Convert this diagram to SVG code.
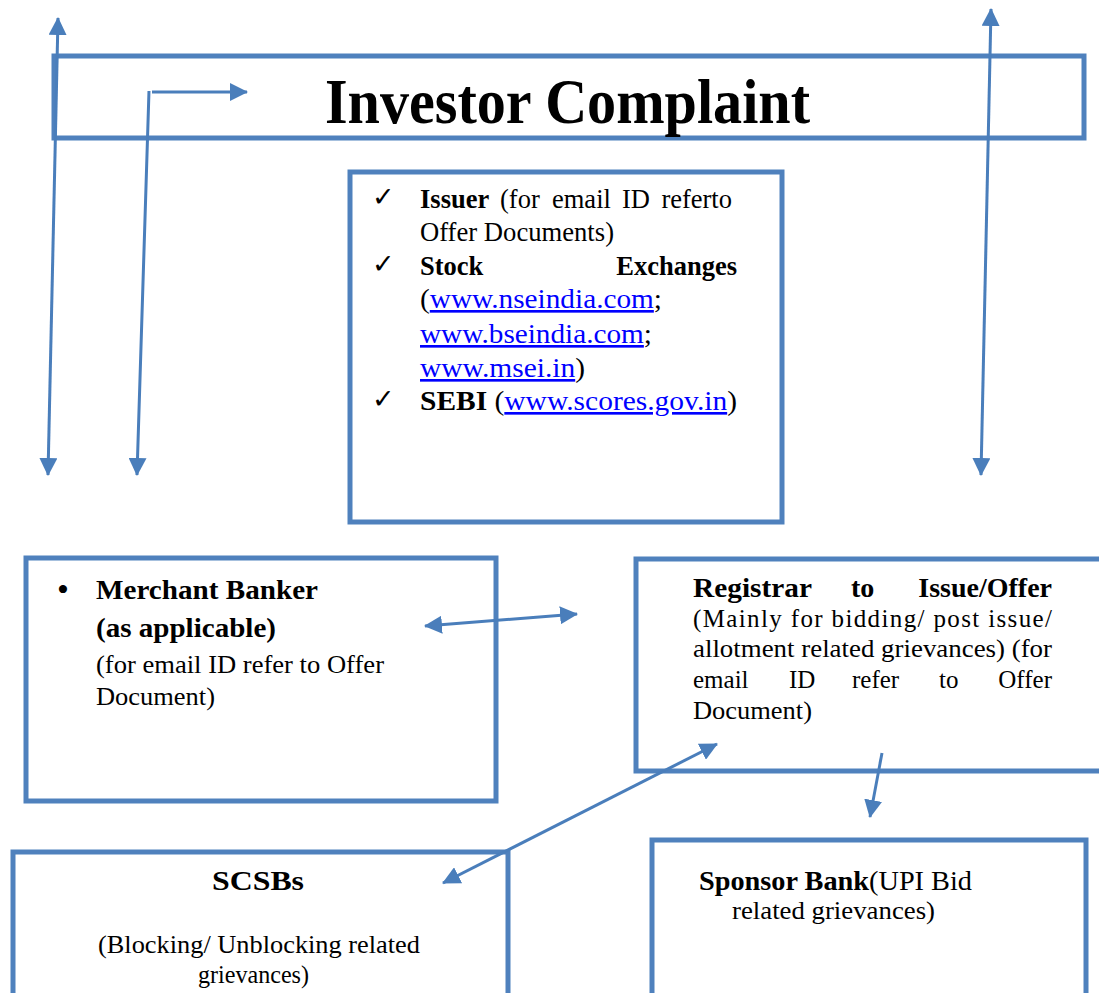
<svg xmlns="http://www.w3.org/2000/svg" width="1099" height="993" viewBox="0 0 1099 993">
<style>
.box{fill:none;stroke:#4F81BD;stroke-width:5}
.con{stroke:#4A7EBB;stroke-width:3;fill:none}
text{font-family:"Liberation Serif","Times New Roman",serif;fill:#000}
.b{font-weight:bold}
.link{fill:#0000FF;text-decoration:underline}
.chk{font-family:"DejaVu Sans",sans-serif;font-size:27px;font-weight:bold}
.c{font-size:26.5px}
.r{font-size:25px}
</style>
<defs>
<marker id="ah" viewBox="0 0 18 18" markerWidth="18" markerHeight="18" refX="17" refY="9" orient="auto-start-reverse" markerUnits="userSpaceOnUse">
<path d="M0,0 L18,9 L0,18 z" fill="#4A7EBB"/>
</marker>
</defs>
<rect width="1099" height="993" fill="#fff"/>

<g id="title">
<rect class="box" x="54" y="56" width="1030" height="82"/>
<text class="b" x="325" y="123" font-size="63" textLength="485" lengthAdjust="spacingAndGlyphs">Investor Complaint</text>
</g>

<g id="contacts">
<rect class="box" x="350" y="172" width="432" height="350"/>
<text class="chk" x="372" y="206">✓</text>
<text class="chk" x="372" y="273">✓</text>
<text class="chk" x="372" y="408">✓</text>
<text class="c b" x="420" y="208">Issuer</text>
<text class="c" x="500" y="208">(for</text>
<text class="c" x="552" y="208">email</text>
<text class="c" x="622" y="208">ID</text>
<text class="c" x="732" y="208" text-anchor="end">referto</text>
<text class="c" x="420" y="241" textLength="194" lengthAdjust="spacingAndGlyphs">Offer Documents)</text>
<text class="c b" x="420" y="275">Stock</text>
<text class="c b" x="737" y="275" text-anchor="end">Exchanges</text>
<text class="c" x="420" y="308" textLength="242" lengthAdjust="spacingAndGlyphs">(<tspan class="link">www.nseindia.com</tspan>;</text>
<text class="c" x="420" y="343" textLength="232" lengthAdjust="spacingAndGlyphs"><tspan class="link">www.bseindia.com</tspan>;</text>
<text class="c" x="420" y="377" textLength="165" lengthAdjust="spacingAndGlyphs"><tspan class="link">www.msei.in</tspan>)</text>
<text class="c" x="420" y="410" textLength="317" lengthAdjust="spacingAndGlyphs"><tspan class="b">SEBI</tspan> (<tspan class="link">www.scores.gov.in</tspan>)</text>
</g>

<g id="merchant-banker">
<rect class="box" x="26" y="558" width="470" height="243"/>
<text x="57" y="601" font-size="34">•</text>
<text class="b" x="96" y="599" font-size="28" textLength="222" lengthAdjust="spacingAndGlyphs">Merchant Banker</text>
<text class="b" x="96" y="637" font-size="28" textLength="180" lengthAdjust="spacingAndGlyphs">(as applicable)</text>
<text class="r" x="96" y="673" textLength="288" lengthAdjust="spacingAndGlyphs">(for email ID refer to Offer</text>
<text class="r" x="96" y="705" textLength="119" lengthAdjust="spacingAndGlyphs">Document)</text>
</g>

<g id="registrar">
<rect class="box" x="636" y="559" width="480" height="212"/>
<text class="b" x="693" y="597" font-size="28" textLength="119" lengthAdjust="spacingAndGlyphs">Registrar</text>
<text class="b" x="851" y="597" font-size="28">to</text>
<text class="b" x="1052" y="597" font-size="28" text-anchor="end">Issue/Offer</text>
<text class="r" x="693" y="627" textLength="359" lengthAdjust="spacing">(Mainly for bidding/ post issue/</text>
<text class="r" x="693" y="657" textLength="359" lengthAdjust="spacingAndGlyphs">allotment related grievances) (for</text>
<text class="r" x="693" y="688">email</text>
<text class="r" x="789" y="688">ID</text>
<text class="r" x="852" y="688">refer</text>
<text class="r" x="939" y="688">to</text>
<text class="r" x="1052" y="688" text-anchor="end">Offer</text>
<text class="r" x="693" y="719" textLength="119" lengthAdjust="spacingAndGlyphs">Document)</text>
</g>

<g id="scsbs">
<rect class="box" x="13" y="852" width="495" height="200"/>
<text class="b" x="212" y="890" font-size="28" textLength="92" lengthAdjust="spacingAndGlyphs">SCSBs</text>
<text x="98" y="953" font-size="25" textLength="322" lengthAdjust="spacingAndGlyphs">(Blocking/ Unblocking related</text>
<text x="198" y="983" font-size="25" textLength="111" lengthAdjust="spacingAndGlyphs">grievances)</text>
</g>

<g id="sponsor-bank">
<rect class="box" x="652" y="840" width="434" height="200"/>
<text x="699" y="890" font-size="27" textLength="273" lengthAdjust="spacingAndGlyphs"><tspan class="b">Sponsor Bank</tspan>(UPI Bid</text>
<text x="732" y="919" font-size="26" textLength="203" lengthAdjust="spacingAndGlyphs">related grievances)</text>
</g>

<g id="connectors">
<line class="con" x1="48" y1="475" x2="58" y2="18" marker-start="url(#ah)" marker-end="url(#ah)"/>
<line class="con" x1="149" y1="91" x2="137" y2="475" marker-end="url(#ah)"/>
<line class="con" x1="152" y1="92" x2="247" y2="92" marker-end="url(#ah)"/>
<line class="con" x1="981" y1="475" x2="991" y2="9" marker-start="url(#ah)" marker-end="url(#ah)"/>
<line class="con" x1="425" y1="626" x2="577" y2="614" marker-start="url(#ah)" marker-end="url(#ah)"/>
<line class="con" x1="443" y1="883" x2="717" y2="744" marker-start="url(#ah)" marker-end="url(#ah)"/>
<line class="con" x1="882" y1="753" x2="870" y2="817" marker-end="url(#ah)"/>
</g>
</svg>
